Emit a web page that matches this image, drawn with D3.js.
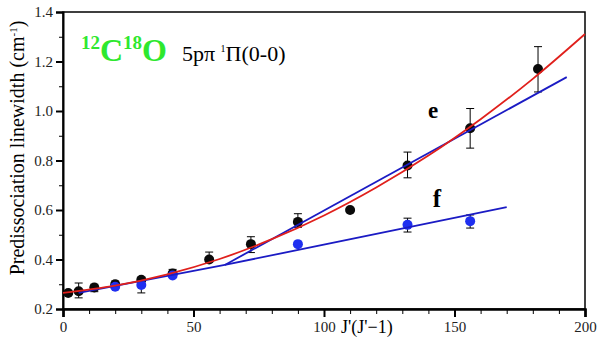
<!DOCTYPE html>
<meta charset="utf-8">
<style>
body { margin: 0; background: #fff; }
svg text { font-family: "Liberation Serif", "DejaVu Serif", "Times New Roman", serif !important; }
.axis path, .axis line { stroke: #000; }
.axis text { font-size: 15px; fill: #222; }
</style>
<svg id="chart" width="600" height="348"></svg>
<script src="https://cdn.jsdelivr.net/npm/d3@7"></script>
<script>
// data
var jj = [2, 6, 12, 20, 30, 42, 56, 72, 90, 110, 132, 156, 182];
var eWidth = [0.265, 0.272, 0.287, 0.300, 0.318, 0.343, 0.400, 0.462, 0.552, 0.600, 0.780, 0.930, 1.170];
var eLow  = [null, 0.245, 0.270, 0.285, null, 0.330, 0.390, 0.428, 0.530, null, 0.730, 0.850, 1.077];
var eHigh = [null, 0.305, 0.300, 0.313, null, 0.360, 0.430, 0.492, 0.585, null, 0.834, 1.010, 1.260];

var fJJ = [20, 30, 42, 90, 132, 156];
var fWidth = [0.290, 0.297, 0.335, 0.462, 0.540, 0.555];
var fLow  = [null, 0.265, null, null, 0.511, 0.527];
var fHigh = [null, 0.325, null, null, 0.567, 0.580];

var redX = [0, 20, 40, 60, 80, 100, 120, 140, 160, 180, 200];
var redY = [0.265, 0.294, 0.340, 0.402, 0.482, 0.578, 0.691, 0.820, 0.967, 1.130, 1.311];

var blueLowX = [6, 62, 170];
var blueLowY = [0.265, 0.378, 0.612];
var blueHighX = [62, 193];
var blueHighY = [0.378, 1.137];

var xTicks = [0, 50, 100, 150, 200];
var yTicks = [0.2, 0.4, 0.6, 0.8, 1.0, 1.2, 1.4];

var serif = '"Liberation Serif", "DejaVu Serif", "Times New Roman", serif';

var margin = {top: 12, right: 15, bottom: 39, left: 63},
    width = 600 - margin.left - margin.right,
    height = 348 - margin.top - margin.bottom;

var svg = d3.select("#chart");
var g = svg.append("g").attr("transform", "translate(" + margin.left + "," + margin.top + ")");

var x = d3.scaleLinear().domain([0, 200]).range([0, width]);
var y = d3.scaleLinear().domain([0.2, 1.4]).range([height, 0]);

// minor ticks
g.append("g")
    .attr("class", "axis")
    .attr("transform", "translate(0," + height + ")")
    .call(d3.axisBottom(x).tickValues(d3.range(0, 201, 10)).tickSize(5).tickFormat(""))
    .call(function(s) { s.select(".domain").remove(); });
g.append("g")
    .attr("class", "axis")
    .call(d3.axisLeft(y).tickValues(d3.range(0.3, 1.4, 0.2)).tickSize(4).tickFormat(""))
    .call(function(s) { s.select(".domain").remove(); });

// frame
g.append("rect")
    .attr("width", width).attr("height", height)
    .attr("fill", "none").attr("stroke", "#000").attr("stroke-width", 1.5);

var xAxis = g.append("g")
    .attr("class", "axis")
    .attr("transform", "translate(0," + height + ")")
    .call(d3.axisBottom(x).tickValues(xTicks).tickSize(8).tickPadding(4).tickFormat(d3.format("d")));
xAxis.select(".domain").attr("stroke-width", 2.5);
xAxis.selectAll(".tick line").attr("stroke-width", 2);

var yAxis = g.append("g")
    .attr("class", "axis")
    .call(d3.axisLeft(y).tickValues(yTicks).tickSize(7).tickPadding(3).tickFormat(d3.format(".1f")));
yAxis.select(".domain").attr("stroke-width", 2);
yAxis.selectAll(".tick line").attr("stroke-width", 2);
g.selectAll(".axis").attr("font-family", serif);

// fit lines
var line = d3.line().x(function(d) { return x(d[0]); }).y(function(d) { return y(d[1]); });
var curve = d3.line().curve(d3.curveCatmullRom).x(function(d) { return x(d[0]); }).y(function(d) { return y(d[1]); });

function pairs(a, b) { return a.map(function(v, i) { return [v, b[i]]; }); }

// error bars
function errBars(xs, lo, hi) {
  var eb = g.append("g").attr("stroke", "#000").attr("stroke-width", 1);
  xs.forEach(function(v, i) {
    if (lo[i] == null) return;
    eb.append("line").attr("x1", x(v)).attr("x2", x(v)).attr("y1", y(lo[i])).attr("y2", y(hi[i]));
    [lo[i], hi[i]].forEach(function(e) {
      eb.append("line").attr("x1", x(v) - 4).attr("x2", x(v) + 4).attr("y1", y(e)).attr("y2", y(e));
    });
  });
}
errBars(jj, eLow, eHigh);
errBars(fJJ, fLow, fHigh);

g.selectAll(".dot-e").data(pairs(jj, eWidth)).enter().append("circle")
    .attr("cx", function(d) { return x(d[0]); })
    .attr("cy", function(d) { return y(d[1]); })
    .attr("r", 5).attr("fill", "#0a0a0a");

g.selectAll(".dot-f").data(pairs(fJJ, fWidth)).enter().append("circle")
    .attr("cx", function(d) { return x(d[0]); })
    .attr("cy", function(d) { return y(d[1]); })
    .attr("r", 5).attr("fill", "#1f2ff0");

g.append("path").datum(pairs(blueLowX, blueLowY))
    .attr("d", line).attr("fill", "none").attr("stroke", "#1b1bc4").attr("stroke-width", 1.8);
g.append("path").datum(pairs(blueHighX, blueHighY))
    .attr("d", line).attr("fill", "none").attr("stroke", "#1b1bc4").attr("stroke-width", 1.8);
g.append("path").datum(pairs(redX, redY))
    .attr("d", curve).attr("fill", "none").attr("stroke", "#e0201c").attr("stroke-width", 1.8);

// labels
svg.append("text")
    .attr("transform", "translate(24,148) rotate(-90)")
    .attr("text-anchor", "middle")
    .attr("font-family", serif)
    .style("font-size", "20px")
    .html('Predissociation linewidth (cm<tspan dy="-7" font-size="11px">-1</tspan><tspan dy="7">)</tspan>');

svg.append("text")
    .attr("x", 341).attr("y", 333)
    .attr("font-family", serif)
    .style("font-size", "18px")
    .text("J'(J'\u22121)");

var title = svg.append("text")
    .attr("x", 81).attr("y", 61)
    .attr("font-family", serif)
    .attr("fill", "#2ee82e")
    .style("font-weight", "bold")
    .style("font-size", "32px");
title.append("tspan").attr("dy", -12).style("font-size", "19px").text("12");
title.append("tspan").attr("dy", 12).text("C");
title.append("tspan").attr("dy", -12).style("font-size", "19px").text("18");
title.append("tspan").attr("dy", 12).text("O");

var sub = svg.append("text")
    .attr("x", 182).attr("y", 61)
    .attr("font-family", serif)
    .style("font-size", "22px");
sub.append("tspan").text("5p\u03c0 ");
sub.append("tspan").attr("dy", -9).style("font-size", "10px").text("1");
sub.append("tspan").attr("dy", 9).text("\u03a0(0-0)");

svg.append("text").attr("x", 433).attr("y", 118).attr("text-anchor", "middle")
    .attr("font-family", serif)
    .style("font-weight", "bold").style("font-size", "23px").text("e");
svg.append("text").attr("x", 437).attr("y", 207).attr("text-anchor", "middle")
    .attr("font-family", serif)
    .style("font-weight", "bold").style("font-size", "25px").text("f");
</script>
